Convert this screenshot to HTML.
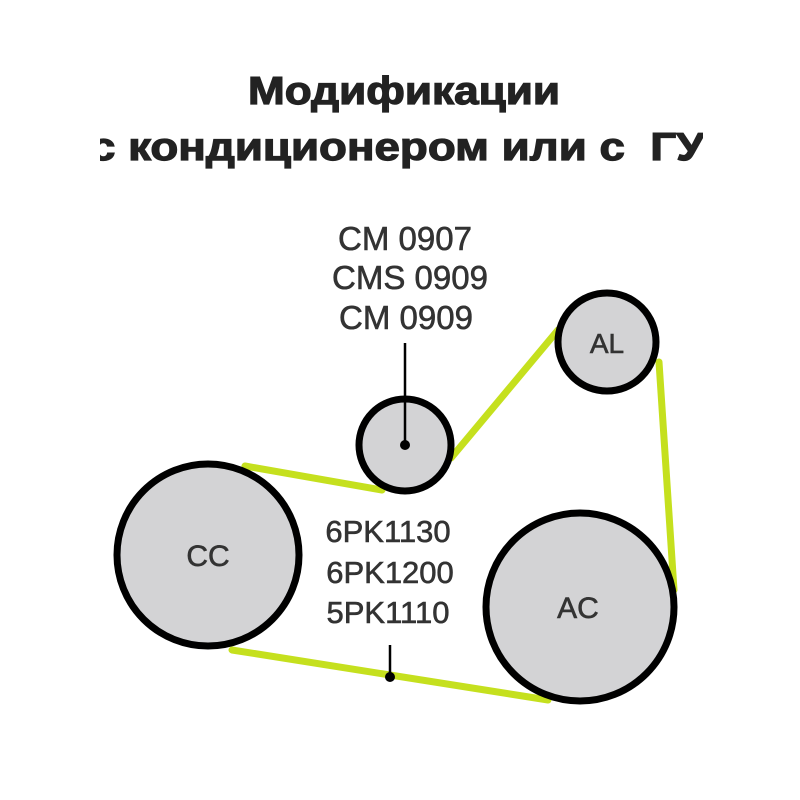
<!DOCTYPE html>
<html><head><meta charset="utf-8"><style>
html,body{margin:0;padding:0;background:#fff;}
svg{display:block;}
</style></head><body>
<svg width="800" height="800" viewBox="0 0 800 800" xmlns="http://www.w3.org/2000/svg">
<defs><clipPath id="c"><rect x="100" y="0" width="603" height="800"/></clipPath></defs>
<g font-family="Liberation Sans, DejaVu Sans, sans-serif" font-weight="bold" fill="#222" stroke="#222" stroke-width="1.2" clip-path="url(#c)">
<text x="248" y="104" font-size="39" textLength="312" lengthAdjust="spacingAndGlyphs">Модификации</text>
<text x="90" y="160" font-size="39" textLength="645" lengthAdjust="spacingAndGlyphs">с кондиционером или с&#160; ГУР</text>
</g>
<g stroke="#c5e01e" stroke-width="7" fill="none" stroke-linecap="round">
<line x1="245" y1="466" x2="382" y2="490"/>
<line x1="451" y1="458" x2="558" y2="330"/>
<line x1="659" y1="362" x2="674" y2="590"/>
<line x1="232" y1="650" x2="548" y2="700"/>
</g>
<g fill="#d3d3d5" stroke="#000" stroke-width="7">
<circle cx="405" cy="445" r="46"/>
<circle cx="607" cy="342" r="49"/>
<circle cx="208" cy="555" r="91"/>
<circle cx="580" cy="607" r="94"/>
</g>
<g stroke="#000" stroke-width="2.5">
<line x1="405" y1="343" x2="405" y2="445"/>
<line x1="390" y1="645" x2="390" y2="677"/>
</g>
<circle cx="405" cy="445" r="5" fill="#000"/>
<circle cx="390" cy="677" r="5" fill="#000"/>
<g font-family="Liberation Sans, DejaVu Sans, sans-serif" fill="#333" stroke="#333" stroke-width="0.6" text-anchor="middle" font-size="33">
<text x="405" y="250">CM 0907</text>
<text x="410" y="289">CMS 0909</text>
<text x="406" y="329">CM 0909</text>
<text x="388" y="542" font-size="31">6PK1130</text>
<text x="390" y="583" font-size="31">6PK1200</text>
<text x="388" y="623" font-size="31">5PK1110</text>
<text x="208" y="566" font-size="30">CC</text>
<text x="578" y="618" font-size="30">AC</text>
<text x="607" y="353" font-size="28">AL</text>
</g>
</svg>
</body></html>
